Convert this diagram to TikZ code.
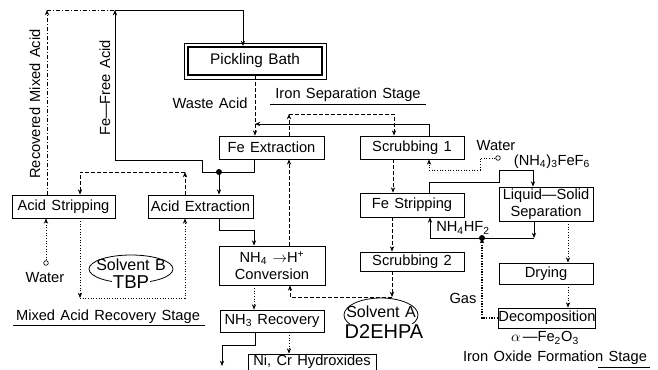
\documentclass[tikz,border=0pt]{standalone}
\usepackage{fontspec}
\setmainfont{Liberation Sans}
\usetikzlibrary{arrows.meta,calc,shapes.geometric}
\newcommand\myfs[1]{\fontsize{#1}{13}\selectfont\spaceskip=4pt\relax}
\begin{document}
\begin{tikzpicture}[x=0.75pt,y=-0.75pt,
  every node/.style={font=\myfs{11}, inner sep=0pt},
  box/.style 2 args={draw, line width=0.6pt, minimum width={#1*0.75pt}, minimum height={#2*0.75pt}, align=center},
  ln/.style={line width=0.5pt},
  arr/.style={-{Stealth[length=4pt,width=3.2pt]}},
  sol/.style={ln},
  dsh/.style={ln, dash pattern=on 3pt off 1.5pt},
  dtt/.style={ln, dash pattern=on 0.8pt off 1.2pt},
  ddt/.style={ln, dash pattern=on 3pt off 1.5pt on 0.8pt off 1.5pt},
  gas/.style={line width=1pt, dash pattern=on 1pt off 1pt},
  jdot/.style={circle, fill, minimum size=4.5pt, inner sep=0pt},
  wcirc/.style={circle, draw, line width=0.5pt, minimum size=3.5pt, inner sep=0pt},
  ell/.style={ellipse, draw, line width=0.6pt}
]
\useasboundingbox (0,0) rectangle (658,369);

% ---------- boxes ----------
\node[box={134}{28}, line width=1.4pt, font=\myfs{11.5}] (pb) at (255,61) {Pickling Bath};
\draw[line width=0.6pt] ($(pb.north west)+(-3,-3)$) rectangle ($(pb.south east)+(3,3)$);
\node[box={105}{23}] (fex) at (271.5,147.5) {Fe Extraction};
\node[box={104}{23}] (scr1) at (412,147.5) {Scrubbing 1};
\node[box={103}{23}] (astr) at (63.5,206.5) {Acid Stripping};
\node[box={105}{23}] (aext) at (200.5,206.5) {Acid Extraction};
\node[box={106}{39}] (conv) at (272,265.5) {NH\textsubscript{4} $\rightarrow$H\textsuperscript{+}\\Conversion};
\node[box={104}{22}] (nh3) at (272,321) {NH\textsubscript{3} Recovery};
\node[box={128}{16}] (nicr) at (312,362) {Ni, Cr Hydroxides};
\node[box={104}{24}] (fstr) at (412,205) {Fe Stripping};
\node[box={104}{19}] (scr2) at (412,261.5) {Scrubbing 2};
\node[box={94}{34}] (lss) at (546,204) {Liquid\textemdash Solid\\Separation};
\node[box={94}{21}] (dry) at (546,273.5) {Drying};
\node[box={92}{20}] (dec) at (547,318) {Decomposition};

% ---------- solvents ----------
\node[ell, minimum width={84*0.75pt}, minimum height={28*0.75pt}] (solB) at (131,269) {};
\node[font=\myfs{12}] (tsb) at (131,265) {Solvent B};
\node[fill=white, inner sep=1pt, font=\myfs{14}] (tbp) at (131,282) {TBP};
\node[ell, minimum width={74*0.75pt}, minimum height={34*0.75pt}] (solA) at (381,315) {};
\node[font=\myfs{12}] (tsa) at (381,312) {Solvent A};
\node[fill=white, inner sep=1pt, font=\myfs{15}] (d2) at (384,332) {D2EHPA};

% ---------- labels ----------
\node (lwaste) at (210,103) {Waste Acid};
\node (lisep) at (348,95) {Iron Separation Stage};
\draw[ln] (270,104) -- (426,104);
\node[rotate=90] (lffa) at (105,88) {Fe\textemdash Free Acid};
\node[rotate=90] (lrma) at (35,104) {Recovered Mixed Acid};
\node (lmar) at (108,317) {Mixed Acid Recovery Stage};
\draw[ln] (13,325) -- (205,325);
\node (lw1) at (45,278) {Water};
\node (lw2) at (496,146) {Water};
\node (lfef) at (552,162) {(NH\textsubscript{4})\textsubscript{3}FeF\textsubscript{6}};
\node (lhf) at (463,228) {NH\textsubscript{4}HF\textsubscript{2}};
\node (lgas) at (463,298) {Gas};
\node (lfe2o3) at (545,338) {$\alpha$\,\textemdash Fe\textsubscript{2}O\textsubscript{3}};
\node (lios) at (555,358) {Iron Oxide Formation Stage};
\draw[ln] (598,367) -- (650,367);

% ---------- junctions and circles ----------
\node[wcirc] (w1) at (46,263) {};
\node[wcirc] (w2) at (498,158) {};
\coordinate (jd) at (219,172);
\coordinate (jg) at (482,238);
\coordinate (wj) at (255,124);
\coordinate (c1) at (289,114);
\coordinate (c2) at (534,238);
\coordinate (c3) at (80,298);
\coordinate (c4) at (185,172);
\coordinate (c5) at (47,10);
\coordinate (c6) at (115,10);
\coordinate (c7) at (222,366);
\coordinate (sa) at (392,297);

% ---------- connectors: iron separation ----------
\draw[dsh,arr] (pb.south) -- (pb.south |- fex.north);
\draw[sol,arr] ($(scr1.north)+(17,0)$) |- (wj);
\draw[dsh,arr] ($(fex.north)+(17.5,0)$) -- (c1);
\draw[dsh,arr] (c1) -| ($(scr1.north)+(-18,0)$);
\draw[dsh,arr] ($(conv.north)+(17,0)$) -- ($(fex.south)+(17.5,0)$);
\draw[sol] ($(fex.south)+(-17,0)$) |- (jd);
\draw[sol,arr] (jd) -- ($(aext.north)+(18.5,0)$);
\draw[sol,arr] (jd) -- (202,172) |- (115,160) -- (c6);
\draw[sol,arr] (c6) -| ($(pb.north)+(-12,0)$);
\node[jdot] at (jd) {};
\draw[dsh,arr] ($(scr1.south)+(-19,0)$) -- ($(fstr.north)+(-19,0)$);
\draw[dsh,arr] ($(fstr.south)+(-20,0)$) -- ($(scr2.north)+(-20,0)$);
\draw[dsh,arr] ($(scr2.south)+(-20,0)$) -- (sa);
\draw[dsh,arr] (sa) -| ($(conv.south)+(18,0)$);
\draw[dtt,arr] (w2) -| (480,170) -| ($(scr1.south)+(17,0)$);
\draw[sol,arr] ($(fstr.north)+(17,0)$) |- (499,182) |- (533,170) -- ($(lss.north)+(-13,0)$);
\draw[sol,arr] ($(lss.south)+(-12,0)$) -- (c2);
\draw[sol,arr] (c2) -| ($(fstr.south)+(18,0)$);
\draw[gas,arr] (dec.west) -| (jg);
\node[jdot] at (jg) {};
\draw[dtt,arr] ($(lss.south)+(22,0)$) -- ($(dry.north)+(22,0)$);
\draw[dtt,arr] ($(dry.south)+(22,0)$) -- ($(dec.north)+(21,0)$);

% ---------- connectors: mixed acid recovery ----------
\draw[ddt,arr] ($(astr.north)+(-16.5,0)$) -- (c5);
\draw[ddt] (c5) -- (c6);
\draw[dsh,arr] ($(aext.north)+(-15.5,0)$) -- (c4);
\draw[dsh,arr] (c4) -| ($(astr.north)+(16.5,0)$);
\draw[dtt,arr] ($(astr.south)+(16.5,0)$) -- (c3);
\draw[dtt,arr] (c3) -| ($(aext.south)+(-15.5,0)$);
\draw[dtt,arr] (w1) -- (w1 |- astr.south);
\draw[sol,arr] ($(aext.south)+(18.5,0)$) |- (254,230) -- ($(conv.north)+(-18,0)$);
\draw[dtt,arr] ($(conv.south)+(-18,0)$) -- ($(nh3.north)+(-18,0)$);
\draw[sol,arr] ($(nh3.south)+(-17,0)$) |- (222,345) -- (c7);
\draw[dtt,arr] ($(nh3.south)+(17,0)$) -- ($(nicr.north)+(-23,0)$);
\end{tikzpicture}
\end{document}
